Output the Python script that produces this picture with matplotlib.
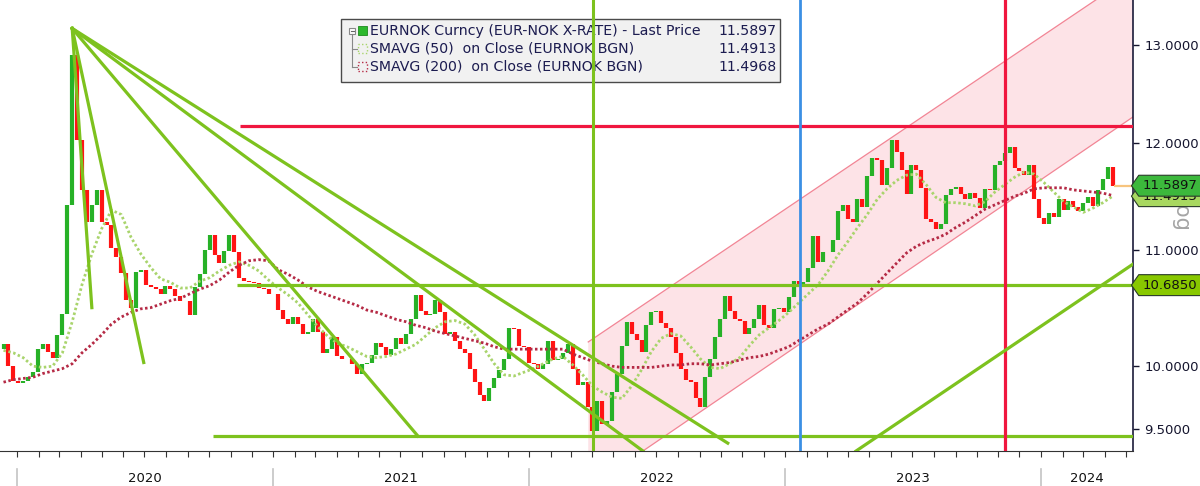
import numpy as np
import pandas as pd
import matplotlib
matplotlib.use("Agg")
import matplotlib.pyplot as plt
import matplotlib.dates as mdates
from matplotlib.patches import Rectangle
from matplotlib.path import Path
from matplotlib.ticker import FixedLocator, FuncFormatter, NullLocator, NullFormatter
from matplotlib.transforms import blended_transform_factory

plt.rcParams['font.family'] = ['DejaVu Sans']

# weekly closes (Fridays)
first_week = '2019-12-06'
close = [10.14, 10.18, 10.00, 9.88, 9.86, 9.88, 9.91, 9.95, 10.14, 10.18,
         10.12, 10.07, 10.26, 10.44, 11.41, 12.90, 12.03, 11.55, 11.25, 11.41,
         11.55, 11.25, 11.22, 11.01, 10.93, 10.79, 10.56, 10.49, 10.80, 10.82,
         10.69, 10.67, 10.65, 10.61, 10.68, 10.65, 10.59, 10.55, 10.55, 10.43,
         10.67, 10.78, 11.00, 11.13, 10.95, 10.88, 10.99, 11.13, 10.98, 10.75,
         10.72, 10.71, 10.70, 10.66, 10.65, 10.61, 10.61, 10.47, 10.39, 10.35,
         10.41, 10.35, 10.27, 10.28, 10.39, 10.28, 10.11, 10.14, 10.24, 10.08,
         10.06, 10.06, 10.02, 9.94, 10.02, 10.03, 10.09, 10.19, 10.16, 10.09,
         10.14, 10.23, 10.18, 10.27, 10.39, 10.60, 10.46, 10.43, 10.44, 10.56,
         10.45, 10.27, 10.28, 10.21, 10.14, 10.11, 9.98, 9.87, 9.77, 9.72,
         9.82, 9.90, 9.97, 10.06, 10.32, 10.31, 10.17, 10.16, 10.03, 10.02,
         9.98, 10.02, 10.21, 10.05, 10.06, 10.11, 10.18, 9.98, 9.85, 9.87,
         9.67, 9.48, 9.72, 9.54, 9.56, 9.79, 9.94, 10.17, 10.37, 10.27,
         10.22, 10.12, 10.34, 10.45, 10.46, 10.36, 10.32, 10.24, 10.11, 9.98,
         9.89, 9.87, 9.74, 9.67, 9.91, 10.06, 10.24, 10.39, 10.59, 10.46,
         10.39, 10.38, 10.27, 10.32, 10.39, 10.51, 10.34, 10.32, 10.48, 10.49,
         10.45, 10.58, 10.72, 10.68, 10.71, 10.84, 11.12, 10.89, 10.98, 10.98,
         11.09, 11.35, 11.41, 11.28, 11.25, 11.46, 11.39, 11.68, 11.86, 11.84,
         11.60, 11.76, 12.03, 11.91, 11.74, 11.51, 11.79, 11.74, 11.57, 11.28,
         11.25, 11.19, 11.23, 11.50, 11.56, 11.58, 11.51, 11.46, 11.52, 11.47,
         11.38, 11.56, 11.55, 11.79, 11.83, 11.90, 11.96, 11.76, 11.73, 11.69,
         11.79, 11.46, 11.29, 11.23, 11.33, 11.30, 11.46, 11.36, 11.45, 11.39,
         11.35, 11.43, 11.48, 11.40, 11.55, 11.65, 11.77, 11.5897]

# moving averages, every second week
sma50 = [10.13, 10.11, 10.07, 10.00, 9.99, 10.00, 10.11, 10.37, 10.69, 10.96,
         11.19, 11.36, 11.32, 11.11, 10.96, 10.84, 10.74, 10.71, 10.66, 10.66,
         10.72, 10.75, 10.81, 10.86, 10.89, 10.86, 10.81, 10.73, 10.66, 10.60,
         10.53, 10.43, 10.33, 10.25, 10.19, 10.16, 10.12, 10.08, 10.07, 10.08,
         10.10, 10.14, 10.18, 10.25, 10.32, 10.37, 10.38, 10.35, 10.26, 10.14,
         10.02, 9.93, 9.92, 9.95, 9.98, 10.02, 10.06, 10.08, 10.01, 9.93,
         9.84, 9.79, 9.75, 9.74, 9.84, 9.97, 10.12, 10.23, 10.27, 10.25,
         10.16, 10.06, 9.99, 9.98, 10.02, 10.07, 10.17, 10.26, 10.32, 10.38,
         10.45, 10.53, 10.61, 10.69, 10.81, 10.95, 11.07, 11.20, 11.32, 11.46,
         11.56, 11.64, 11.69, 11.70, 11.60, 11.48, 11.43, 11.43, 11.42, 11.40,
         11.44, 11.53, 11.60, 11.67, 11.72, 11.70, 11.62, 11.53, 11.44, 11.39,
         11.34, 11.38, 11.43, 11.4913]
sma200 = [9.87, 9.89, 9.90, 9.91, 9.94, 9.96, 9.98, 10.02, 10.11, 10.18,
          10.26, 10.35, 10.41, 10.45, 10.48, 10.49, 10.52, 10.55, 10.57, 10.61,
          10.65, 10.68, 10.73, 10.80, 10.86, 10.90, 10.91, 10.90, 10.82, 10.78,
          10.73, 10.67, 10.63, 10.60, 10.57, 10.54, 10.51, 10.47, 10.45, 10.42,
          10.39, 10.37, 10.34, 10.32, 10.29, 10.27, 10.25, 10.23, 10.21, 10.19,
          10.16, 10.14, 10.14, 10.14, 10.14, 10.14, 10.14, 10.14, 10.10, 10.07,
          10.04, 10.02, 10.00, 9.99, 9.99, 9.99, 9.99, 10.00, 10.01, 10.01,
          10.02, 10.02, 10.01, 10.02, 10.03, 10.05, 10.07, 10.08, 10.10, 10.13,
          10.16, 10.21, 10.26, 10.31, 10.35, 10.41, 10.47, 10.53, 10.61, 10.70,
          10.79, 10.88, 10.97, 11.03, 11.07, 11.10, 11.14, 11.20, 11.25, 11.31,
          11.37, 11.41, 11.45, 11.49, 11.52, 11.56, 11.57, 11.57, 11.57, 11.55,
          11.54, 11.53, 11.52, 11.4968]

legend_labels = ['EURNOK Curncy (EUR-NOK X-RATE) - Last Price',
                 'SMAVG (50)  on Close (EURNOK BGN)',
                 'SMAVG (200)  on Close (EURNOK BGN)']

view_start, view_end = '2019-12-08', '2024-05-11'
y_range = (9.33, 13.49)
y_ticks = [9.5, 10, 11, 12, 13]
years = [2020, 2021, 2022, 2023, 2024]

# hand drawn studies on the chart
fan_origin = ('2020-03-20', 13.18)
fan_targets = [('2020-04-17', 10.49), ('2020-06-30', 10.03), ('2021-07-26', 9.445),
               ('2022-06-12', 9.33), ('2022-10-11', 9.39)]
green_levels = [('2020-11-10', 10.685), ('2020-10-07', 9.445)]
red_level = ('2020-11-14', 12.17)
green_vline = '2022-04-02'
blue_vline = '2023-01-22'
red_vline = '2023-11-11'
channel_dates = ['2022-03-26', '2024-05-11']
channel_upper = [10.20, 13.77]
channel_lower = [9.05, 12.26]
support_dates = ['2023-04-12', '2024-05-11']
support_vals = [9.33, 10.87]

LIME = '#7dc21e'
RED = '#f0173f'
SMA50_C = '#a9d46c'
SMA200_C = '#b52a45'
INK = '#15152e'

fig = plt.figure(figsize=(12, 4.86), dpi=100)
ax = fig.add_axes([0, 35 / 486, 1133 / 1200, 451 / 486])
ax.set_yscale('log')

# channel
cd = pd.to_datetime(channel_dates)
ax.fill_between(cd, channel_lower, channel_upper, color='#fde3e7', lw=0, zorder=1)
ax.plot(cd, channel_upper, color='#f28595', lw=0.9, zorder=1.5)
ax.plot(cd, channel_lower, color='#f28595', lw=0.9, zorder=1.5)

# price bars
dates = pd.date_range(first_week, periods=len(close), freq='W-FRI')
c = np.array(close)
o, cl, d = c[:-1], c[1:], dates[1:]
up = cl >= o
ax.vlines(d[up], o[up], cl[up], color='#27b127', lw=3.0, zorder=2)
ax.vlines(d[~up], cl[~up], o[~up], color='#ff1414', lw=3.0, zorder=2)

sma_dates = dates[1::2]
ax.plot(sma_dates, sma50, color=SMA50_C, lw=2.0, ls=(0, (0.9, 0.9)), zorder=2.4)
ax.plot(sma_dates, sma200, color=SMA200_C, lw=2.0, ls=(0, (0.9, 0.9)), zorder=2.4)

# last price line
ax.hlines(c[-1], dates[-1] + pd.Timedelta(days=2), pd.Timestamp(view_end),
          color='#f7c47e', lw=1.6, zorder=2)

# fan lines
t0 = pd.Timestamp(fan_origin[0])
for dt, v in fan_targets:
    ax.plot([t0, pd.Timestamp(dt)], [fan_origin[1], v], color=LIME, lw=2.3, zorder=3)

for dt, v in green_levels:
    ax.hlines(v, pd.Timestamp(dt), pd.Timestamp(view_end), color=LIME, lw=2.3, zorder=3)
ax.hlines(red_level[1], pd.Timestamp(red_level[0]), pd.Timestamp(view_end), color=RED, lw=2.3, zorder=3)

ax.axvline(pd.Timestamp(green_vline), color=LIME, lw=2.2, zorder=3)
ax.axvline(pd.Timestamp(blue_vline), color='#3b8fe4', lw=2.0, zorder=3)
ax.axvline(pd.Timestamp(red_vline), color=RED, lw=2.3, zorder=3)

ax.plot(pd.to_datetime(support_dates), support_vals, color=LIME, lw=2.3, zorder=3)

# axes styling
for s in ['top', 'left']:
    ax.spines[s].set_visible(False)
ax.spines['right'].set_color('#1b1b3a')
ax.spines['right'].set_linewidth(1.2)
ax.spines['bottom'].set_color('#333333')
ax.yaxis.tick_right()
ax.yaxis.set_major_locator(FixedLocator(y_ticks))
ax.yaxis.set_major_formatter(FuncFormatter(lambda v, p: f'{v:.4f}'))
ax.yaxis.set_minor_locator(NullLocator())
ax.yaxis.set_minor_formatter(NullFormatter())
ax.tick_params(axis='y', which='major', direction='out', length=4, width=1,
               pad=4, labelsize=9.5, colors=INK)
ax.xaxis.set_major_locator(mdates.MonthLocator())
ax.xaxis.set_major_formatter(NullFormatter())
ax.tick_params(axis='x', direction='out', length=4, width=0.8, color='#333333')

xt = blended_transform_factory(ax.transData, ax.transAxes)
for yr in years:
    start = pd.Timestamp(f'{yr}-01-01')
    end = min(pd.Timestamp(f'{yr + 1}-01-01'), pd.Timestamp(view_end))
    ax.plot([start, start], [-0.04, -0.08], transform=xt, color='#c4c4c4', lw=1.2, clip_on=False)
    ax.text(start + (end - start) / 2, -0.06, str(yr), transform=xt, ha='center', va='center',
            fontsize=9.5, color='#111111')


# price tags on the right axis
def tag_shape(x0, y0, width, height, mutation_size):
    pad = 0.3 * mutation_size
    x0, y0 = x0 - pad, y0 - pad
    x1, y1 = x0 + width + 2 * pad, y0 + height + 2 * pad
    tip = (y1 - y0) * 0.35
    ym = (y0 + y1) / 2
    return Path([(x0, y0), (x1, y0), (x1, y1), (x0, y1), (x0 - tip, ym), (x0, y0)], closed=True)


yt = blended_transform_factory(ax.transAxes, ax.transData)
ax.text(1.0415, 11.31, 'log', transform=yt, rotation=270, ha='center', va='center',
        fontsize=15, color='#a5a5a5', zorder=4, clip_on=False)
tags = [(sma50[-1], '#a8d860', 5), (c[-1], '#3cb83c', 6), (green_levels[0][1], '#88c800', 6)]
for v, fc, z in tags:
    ax.annotate(f'{v:.4f}', xy=(1, v), xycoords=yt, xytext=(7, 0), textcoords='offset points',
                ha='left', va='center', fontsize=9.5, color='#111111', zorder=z,
                bbox=dict(boxstyle=tag_shape, fc=fc, ec='#2a3a2a', lw=0.8),
                annotation_clip=False)

# legend box
W, H = 1133, 451
ax.add_patch(Rectangle((341 / W, 1 - 82 / H), 439 / W, 63 / H, transform=ax.transAxes,
                       fc='#f1f1f1', ec='#4a4a4a', lw=1, zorder=2.7, clip_on=False))
rows = [31, 49, 67]
values = [c[-1], sma50[-1], sma200[-1]]
for i, (lab, val, ry) in enumerate(zip(legend_labels, values, rows)):
    yy = 1 - ry / H
    ax.text(370 / W, yy, lab, transform=ax.transAxes, ha='left', va='center',
            fontsize=10.2, color='#1c1c50', zorder=2.8)
    ax.text(777 / W, yy, f'{val:.4f}', transform=ax.transAxes, ha='right', va='center',
            fontsize=10.2, color='#1c1c50', zorder=2.8)
    if i == 0:
        ax.add_patch(Rectangle((358 / W, yy - 4.5 / H), 9 / W, 9 / H, transform=ax.transAxes,
                               fc='#2db82d', ec='#1d8a1d', lw=0.6, zorder=2.8))
    else:
        ec = SMA50_C if i == 1 else SMA200_C
        ax.add_patch(Rectangle((358 / W, yy - 4.5 / H), 9 / W, 9 / H, transform=ax.transAxes,
                               fc='none', ec=ec, lw=1, ls=':', zorder=2.8))
        ax.plot([352 / W, 357 / W], [yy, yy], transform=ax.transAxes, color='#888888', lw=0.8, zorder=2.8)
ax.add_patch(Rectangle((349 / W, 1 - 34 / H), 6 / W, 6 / H, transform=ax.transAxes,
                       fc='white', ec='#888888', lw=0.8, zorder=2.8))
ax.plot([350.5 / W, 353.5 / W], [1 - 31 / H, 1 - 31 / H], transform=ax.transAxes, color='#666666', lw=0.8, zorder=2.9)
ax.plot([352 / W, 352 / W], [1 - 34 / H, 1 - 67 / H], transform=ax.transAxes, color='#888888', lw=0.8, zorder=2.8)

ax.set_xlim(pd.Timestamp(view_start), pd.Timestamp(view_end))
ax.set_ylim(*y_range)

fig.savefig('out.png', dpi=100)
